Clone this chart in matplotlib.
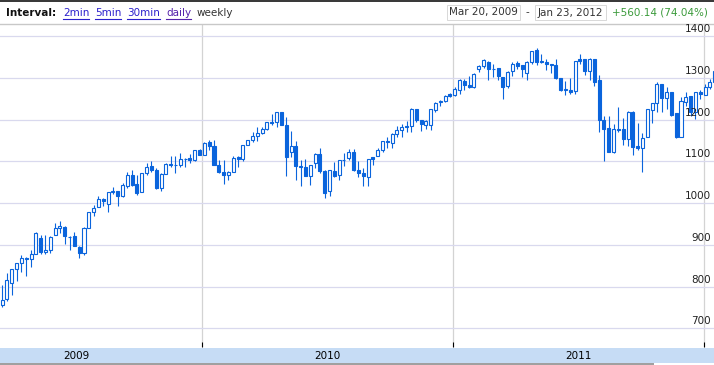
import matplotlib
matplotlib.use("Agg")
import matplotlib.pyplot as plt
import matplotlib.dates as mdates
import numpy as np
import pandas as pd
from matplotlib.patches import Rectangle
from matplotlib.lines import Line2D

# ---------------- data (weekly candles, S&P 500) ----------------
start_week = "2009-03-16"
opens = [756, 771, 809, 842, 857, 868, 866, 879, 916, 883, 887, 924, 940, 943, 919, 920, 895, 880, 941, 979,
         990, 1010, 998, 1026, 1028, 1016, 1040, 1067, 1045, 1026, 1071, 1088, 1080, 1036, 1069, 1094, 1091, 1091, 1105, 1107,
         1103, 1127, 1116, 1145, 1136, 1092, 1074, 1066, 1075, 1110, 1105, 1138, 1150, 1160, 1167, 1178, 1194, 1193, 1217, 1188,
         1122, 1136, 1087, 1087, 1065, 1095, 1117, 1077, 1028, 1077, 1066, 1102, 1107, 1122, 1080, 1073, 1063, 1110, 1113, 1126,
         1148, 1144, 1165, 1176, 1184, 1185, 1225, 1199, 1188, 1186, 1223, 1242, 1245, 1260, 1258, 1271, 1293, 1283, 1277, 1321,
         1328, 1338, 1321, 1323, 1301, 1280, 1315, 1335, 1330, 1312, 1337, 1366, 1340, 1337, 1333, 1331, 1300, 1271, 1271, 1268,
         1344, 1344, 1315, 1345, 1295, 1199, 1179, 1123, 1177, 1177, 1153, 1219, 1137, 1131, 1157, 1223, 1239, 1285, 1252, 1265,
         1216, 1157, 1243, 1256, 1219, 1267, 1259, 1277, 1291]
highs = [804, 832, 842, 856, 875, 871, 888, 930, 923, 924, 920, 951, 956, 945, 922, 931, 898, 943, 979, 996,
         1018, 1013, 1027, 1039, 1028, 1048, 1074, 1080, 1066, 1071, 1097, 1101, 1085, 1071, 1097, 1113, 1112, 1119, 1107, 1117,
         1127, 1130, 1145, 1150, 1150, 1103, 1104, 1077, 1112, 1112, 1139, 1151, 1170, 1181, 1181, 1195, 1214, 1217, 1219, 1205,
         1173, 1148, 1103, 1105, 1092, 1119, 1131, 1080, 1078, 1099, 1103, 1120, 1129, 1130, 1100, 1083, 1105, 1110, 1131, 1149,
         1159, 1167, 1184, 1190, 1196, 1227, 1226, 1200, 1198, 1225, 1241, 1247, 1259, 1263, 1278, 1296, 1296, 1304, 1311, 1330,
         1344, 1340, 1332, 1323, 1301, 1315, 1337, 1340, 1330, 1339, 1364, 1371, 1358, 1346, 1334, 1345, 1300, 1293, 1299, 1341,
         1357, 1344, 1347, 1345, 1307, 1208, 1208, 1190, 1229, 1203, 1220, 1220, 1192, 1168, 1224, 1239, 1291, 1285, 1277, 1267,
         1216, 1255, 1267, 1256, 1267, 1270, 1285, 1297, 1315]
lows = [751, 766, 779, 814, 836, 826, 847, 878, 878, 879, 881, 923, 929, 903, 888, 896, 869, 875, 940, 968,
        990, 992, 978, 1022, 992, 1015, 1036, 1041, 1020, 1026, 1066, 1074, 1033, 1029, 1069, 1086, 1073, 1087, 1086, 1095,
        1100, 1115, 1116, 1127, 1090, 1071, 1045, 1056, 1075, 1086, 1100, 1138, 1147, 1149, 1165, 1176, 1186, 1183, 1186, 1065,
        1111, 1056, 1040, 1064, 1042, 1085, 1073, 1011, 1018, 1063, 1056, 1089, 1104, 1077, 1063, 1040, 1040, 1091, 1113, 1122,
        1131, 1132, 1159, 1159, 1171, 1170, 1194, 1173, 1177, 1174, 1219, 1233, 1243, 1254, 1257, 1262, 1271, 1275, 1275, 1313,
        1324, 1294, 1303, 1294, 1249, 1276, 1304, 1322, 1303, 1295, 1332, 1330, 1336, 1319, 1311, 1297, 1268, 1259, 1262, 1262,
        1333, 1306, 1295, 1281, 1171, 1101, 1122, 1121, 1170, 1139, 1137, 1115, 1128, 1075, 1157, 1191, 1219, 1219, 1226, 1209,
        1155, 1157, 1232, 1209, 1202, 1248, 1258, 1274, 1290]
closes = [768, 815, 842, 856, 869, 866, 877, 929, 882, 887, 919, 940, 946, 921, 918, 896, 880, 941, 979, 987,
          1010, 1004, 1026, 1029, 1016, 1042, 1068, 1044, 1025, 1071, 1087, 1079, 1036, 1069, 1093, 1091, 1091, 1106, 1106, 1102,
          1126, 1115, 1144, 1136, 1092, 1074, 1067, 1075, 1109, 1105, 1138, 1150, 1160, 1167, 1178, 1194, 1192, 1217, 1187, 1111,
          1136, 1088, 1089, 1064, 1092, 1117, 1076, 1023, 1078, 1065, 1103, 1102, 1122, 1079, 1071, 1065, 1105, 1105, 1126, 1149,
          1146, 1165, 1176, 1183, 1183, 1225, 1199, 1190, 1197, 1225, 1240, 1244, 1257, 1256, 1272, 1294, 1283, 1278, 1310, 1329,
          1343, 1320, 1321, 1304, 1279, 1314, 1334, 1328, 1320, 1337, 1364, 1338, 1337, 1334, 1331, 1300, 1270, 1272, 1265, 1340,
          1339, 1315, 1345, 1291, 1199, 1177, 1123, 1177, 1174, 1153, 1217, 1135, 1131, 1155, 1224, 1239, 1285, 1251, 1265, 1211,
          1157, 1244, 1255, 1219, 1267, 1262, 1277, 1291, 1315]
y_ticks = [700, 800, 900, 1000, 1100, 1200, 1300, 1400]
year_labels = ["2009", "2010", "2011"]
year_bounds = ["2010-01-01", "2011-01-01", "2012-01-01"]
interval_links = ["2min", "5min", "30min", "daily"]
range_start, range_end, change_text = "Mar 20, 2009", "Jan 23, 2012", "+560.14 (74.04%)"

# ---------------- styling ----------------
W, H = 714, 365
BLUE = "#0a64dc"
fig = plt.figure(figsize=(W / 100, H / 100), dpi=100)
fig.patch.set_facecolor("white")

def fx(px):
    return px / W

def fy(py):
    return 1 - py / H

top_px, bot_px = 24, 347
ax = fig.add_axes([0, fy(bot_px), 1, (bot_px - top_px) / H])

dates = pd.date_range(start_week, periods=len(opens), freq="7D")
xd = mdates.date2num(dates.to_pydatetime())
o = np.array(opens, float); h = np.array(highs, float)
l = np.array(lows, float); c = np.array(closes, float)

ppd = 0.6878
x_anchor = mdates.date2num(pd.Timestamp("2010-01-01").to_pydatetime())
x0 = x_anchor - 202.3 / ppd
ax.set_xlim(x0, x0 + W / ppd)
# y: 1400 at px 36, 700 at px 328.3
ppv = (328.3 - 36) / 700
ax.set_ylim(1400 - (bot_px - 36) / ppv, 1400 + (36 - top_px) / ppv)

ax.vlines(xd, l, h, color=BLUE, lw=0.8, zorder=3)
up = c >= o
bw = 4.4
ax.bar(xd[up], c[up] - o[up], bottom=o[up], width=bw, facecolor="white",
       edgecolor=BLUE, lw=0.8, zorder=4)
ax.bar(xd[~up], o[~up] - c[~up], bottom=c[~up], width=bw, facecolor=BLUE,
       edgecolor=BLUE, lw=0.8, zorder=4)

ax.set_yticks(y_ticks)
ax.grid(axis="y", color="#d9d9ee", lw=0.9, zorder=0)
yb = [mdates.date2num(pd.Timestamp(d).to_pydatetime()) for d in year_bounds]
ax.set_xticks(yb)
for xv in yb:
    ax.axvline(xv, color="#d3d3d3", lw=0.9, zorder=1)
ax.tick_params(axis="y", left=False, labelleft=False)
ax.tick_params(axis="x", direction="in", length=3.5, width=0.8, color="black",
               labelbottom=False, bottom=True)
for s in ["left", "right", "bottom"]:
    ax.spines[s].set_visible(False)
ax.spines["top"].set_color("#c8c8c8")
ax.spines["top"].set_linewidth(1.0)

for v in y_ticks:
    ax.annotate(str(v), xy=(1, v), xycoords=("axes fraction", "data"),
                xytext=(-3, 2), textcoords="offset pixels", ha="right", va="bottom",
                fontsize=7.5, color="#222222", zorder=6)

# ---------------- bottom strip ----------------
sax = fig.add_axes([0, 0, 1, (H - bot_px) / H])
sax.set_xlim(0, W); sax.set_ylim(H, bot_px)
sax.axis("off")
sax.add_patch(Rectangle((0, 348), W, 14.5, facecolor="#c6dcf5", edgecolor="none"))
sax.add_patch(Rectangle((0, 362.5), 654, 2, facecolor="#a0a0a0", edgecolor="none"))
year_mid = [mdates.date2num(pd.Timestamp(f"{y}-07-02").to_pydatetime()) for y in year_labels]
for lab, xm in zip(year_labels, year_mid):
    px = (xm - x0) * ppd
    sax.text(px, 355.5, lab, ha="center", va="center", fontsize=7.5, color="black")

# ---------------- header ----------------
fig.add_artist(Rectangle((0, fy(2)), 1, 2 / H, transform=fig.transFigure,
                         facecolor="#3a3a3a", edgecolor="none"))
fig.text(fx(6), fy(13), "Interval:", fontsize=7.5, fontweight="bold", va="center", color="#111111")
link_x = [63, 95, 127, 166]
link_cols = ["#2a1fcc", "#2a1fcc", "#2a1fcc", "#5522aa"]
link_texts = []
for lab, px, col in zip(interval_links, link_x, link_cols):
    t = fig.text(fx(px), fy(13), lab, fontsize=7.5, va="center", color=col)
    link_texts.append((t, col))
fig.text(fx(197), fy(13), "weekly", fontsize=7.5, va="center", color="#333333")

for (bx0, bx1, txt) in [(447, 520, range_start), (535, 606, range_end)]:
    fig.add_artist(Rectangle((fx(bx0), fy(19.5)), (bx1 - bx0) / W, 14.5 / H,
                             transform=fig.transFigure, facecolor="white",
                             edgecolor="#d8d8d8", lw=0.7))
    fig.text(fx((bx0 + bx1) / 2), fy(12.5), txt, fontsize=7.5, ha="center",
             va="center", color="#333333")
fig.text(fx(527), fy(12.5), "-", fontsize=7.5, ha="center", va="center", color="#333333")
fig.text(fx(612), fy(12.5), change_text, fontsize=7.5, ha="left", va="center", color="#3a9a3a")

fig.canvas.draw()
r = fig.canvas.get_renderer()
for t, col in link_texts:
    bb = t.get_window_extent(r)
    fig.add_artist(Line2D([bb.x0 / W, bb.x1 / W], [fy(18.5), fy(18.5)],
                          transform=fig.transFigure, color=col, lw=0.8))

fig.savefig("out.png", dpi=100)
